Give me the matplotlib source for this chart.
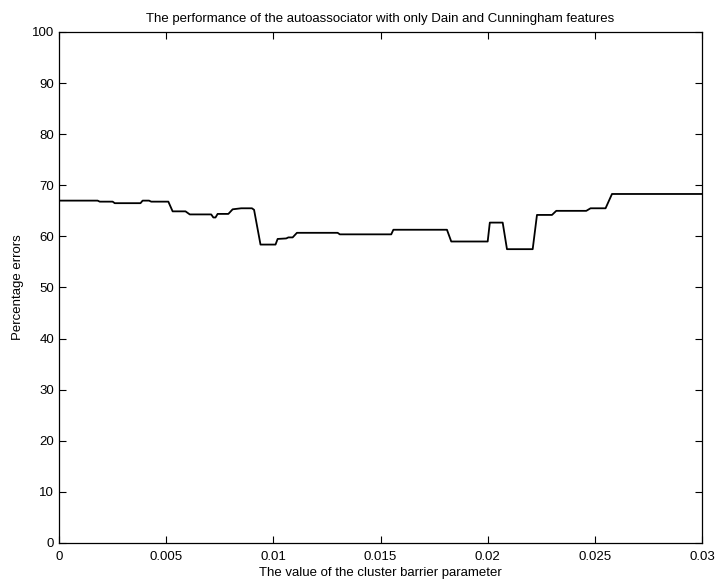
import matplotlib
matplotlib.use("Agg")
import matplotlib.pyplot as plt

# puntos (valor del parametro, % de errores)
barrier = [0.0, 0.0018, 0.0019, 0.0025, 0.0026, 0.0038, 0.0039, 0.0042, 0.0043,
           0.0051, 0.0053, 0.0059, 0.0061, 0.0071, 0.0072, 0.0073, 0.0074, 0.0079,
           0.0081, 0.0085, 0.0090, 0.0091, 0.0094, 0.0101, 0.0102, 0.0106, 0.0107,
           0.0109, 0.0111, 0.0130, 0.0131, 0.0155, 0.0156, 0.0181, 0.0183, 0.0200,
           0.0201, 0.0207, 0.0209, 0.0221, 0.0223, 0.0230, 0.0232, 0.0246, 0.0248,
           0.0255, 0.0258, 0.0300]
errors = [67.0, 67.0, 66.8, 66.8, 66.5, 66.5, 67.0, 67.0, 66.8,
          66.8, 64.9, 64.9, 64.3, 64.3, 63.7, 63.7, 64.4, 64.4,
          65.3, 65.5, 65.5, 65.2, 58.4, 58.4, 59.5, 59.6, 59.8,
          59.8, 60.7, 60.7, 60.4, 60.4, 61.3, 61.3, 59.0, 59.0,
          62.7, 62.7, 57.5, 57.5, 64.2, 64.2, 65.0, 65.0, 65.5,
          65.5, 68.3, 68.3]

xticks = [0, 0.005, 0.01, 0.015, 0.02, 0.025, 0.03]
xticklabels = ["0", "0.005", "0.01", "0.015", "0.02", "0.025", "0.03"]
yticks = [0, 10, 20, 30, 40, 50, 60, 70, 80, 90, 100]

plt.rcParams['font.family'] = ['Liberation Sans', 'DejaVu Sans']

fig = plt.figure(figsize=(7.2, 5.86), dpi=100)
ax = fig.add_axes([0.082, 0.0734, 0.893, 0.872])

ax.plot(barrier, errors, color='black', linewidth=1.3)

ax.set_xlim(0, 0.03)
ax.set_ylim(0, 100)
ax.set_xticks(xticks)
ax.set_xticklabels(xticklabels)
ax.set_yticks(yticks)
ax.tick_params(direction='in', top=True, right=True, length=5, width=0.8,
               labelsize=9.5, colors='black')
ax.tick_params(axis='x', pad=6)
for s in ax.spines.values():
    s.set_linewidth(0.9)

ax.set_title("The performance of the autoassociator with only Dain and Cunningham features",
             fontsize=9.5, pad=7)
ax.set_xlabel("The value of the cluster barrier parameter", fontsize=9.5, labelpad=3)
ax.set_ylabel("Percentage errors", fontsize=9.5, labelpad=6)

fig.savefig("out.png", dpi=100)
